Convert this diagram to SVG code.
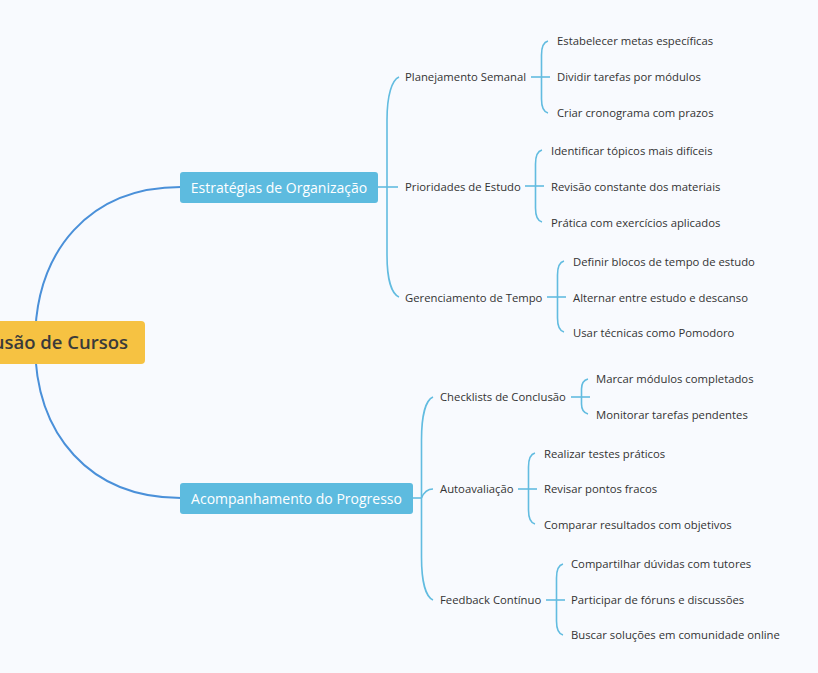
<svg xmlns="http://www.w3.org/2000/svg" width="818" height="673" viewBox="0 0 818 673">
<style>
text{font-family:"Open Sans","Noto Sans","Liberation Sans",sans-serif;}
.leaf{font-size:11.3px;fill:#333;}
.sub{font-size:11.3px;fill:#333;}
.main{font-size:14px;fill:#fff;}
.root{font-size:18.5px;fill:#3a3a3a;font-weight:600;}
.mc{fill:none;stroke:#4a90d9;stroke-width:2;}
.sc{fill:none;stroke:#62bce0;stroke-width:1.6;}
.mbox{fill:#5dbbdf;}
</style>
<rect width="818" height="673" fill="#f8fafe"/>
<g id="connectors">
<path class="mc" d="M35 343 C35 250 90 187 181 187"/>
<path class="mc" d="M35 343 C35 435 90 498 181 498"/>
<path class="sc" d="M378 187 H398"/>
<path class="sc" d="M399 77 C392 80 387 95 387 120 L387 255 C387 280 392 294 399 297"/>
<path class="sc" d="M413 498 H422"/>
<path class="sc" d="M433 397 C426 400 421.5 415 421.5 440 L421.5 557 C421.5 582 426 597 433 600"/>
<path class="sc" d="M421.5 498 C424 492 428 489 433 489"/>
<path class="sc" d="M531 77 H550"/>
<path class="sc" d="M548 41 C544 42 541.5 46 541.5 55 L541.5 99 C541.5 108 544 112 548 113"/>
<path class="sc" d="M525 186 H544"/>
<path class="sc" d="M542 150 C538 151 535.5 155 535.5 164 L535.5 208 C535.5 217 538 221 542 222"/>
<path class="sc" d="M547 297 H566"/>
<path class="sc" d="M564 261 C560 262 557.5 266 557.5 275 L557.5 318 C557.5 327 560 331 564 332"/>
<path class="sc" d="M571 397 H590"/>
<path class="sc" d="M588 379 C584 380 581.5 384 581.5 389 L581.5 404 C581.5 409 584 413 588 414"/>
<path class="sc" d="M518 489 H537"/>
<path class="sc" d="M535 453 C531 454 528.5 458 528.5 467 L528.5 510 C528.5 519 531 523 535 524"/>
<path class="sc" d="M546 600 H565"/>
<path class="sc" d="M563 564 C559 565 556.5 569 556.5 578 L556.5 621 C556.5 630 559 634 563 635"/>
</g>
<g id="root">
<rect x="-20" y="321" width="165" height="43" rx="4" fill="#f6c242"/>
<text class="root" x="128" y="349" text-anchor="end">usão de Cursos</text>
</g>
<g id="n-estrategias">
<rect class="mbox" x="180" y="172" width="198" height="31" rx="3"/>
<text class="main" x="279" y="192.5" text-anchor="middle">Estratégias de Organização</text>
</g>
<g id="n-acompanhamento">
<rect class="mbox" x="180" y="483" width="233" height="31" rx="3"/>
<text class="main" x="296.5" y="503.5" text-anchor="middle">Acompanhamento do Progresso</text>
</g>
<g id="n-planejamento"><text class="sub" x="405" y="81">Planejamento Semanal</text></g>
<g id="n-prioridades"><text class="sub" x="405" y="190.5">Prioridades de Estudo</text></g>
<g id="n-gerenciamento"><text class="sub" x="405" y="301.5">Gerenciamento de Tempo</text></g>
<g id="n-l1"><text class="leaf" x="557" y="45">Estabelecer metas específicas</text></g>
<g id="n-l2"><text class="leaf" x="557" y="81">Dividir tarefas por módulos</text></g>
<g id="n-l3"><text class="leaf" x="557" y="117">Criar cronograma com prazos</text></g>
<g id="n-l4"><text class="leaf" x="551" y="154.5">Identificar tópicos mais difíceis</text></g>
<g id="n-l5"><text class="leaf" x="551" y="190.5">Revisão constante dos materiais</text></g>
<g id="n-l6"><text class="leaf" x="551" y="226.5">Prática com exercícios aplicados</text></g>
<g id="n-l7"><text class="leaf" x="573" y="265.5">Definir blocos de tempo de estudo</text></g>
<g id="n-l8"><text class="leaf" x="573" y="301.5">Alternar entre estudo e descanso</text></g>
<g id="n-l9"><text class="leaf" x="573" y="336.5">Usar técnicas como Pomodoro</text></g>
<g id="n-checklists"><text class="sub" x="440" y="401">Checklists de Conclusão</text></g>
<g id="n-autoavaliacao"><text class="sub" x="440" y="493">Autoavaliação</text></g>
<g id="n-feedback"><text class="sub" x="440" y="604">Feedback Contínuo</text></g>
<g id="n-l10"><text class="leaf" x="596" y="383">Marcar módulos completados</text></g>
<g id="n-l11"><text class="leaf" x="596" y="418.5">Monitorar tarefas pendentes</text></g>
<g id="n-l12"><text class="leaf" x="544" y="457.5">Realizar testes práticos</text></g>
<g id="n-l13"><text class="leaf" x="544" y="493">Revisar pontos fracos</text></g>
<g id="n-l14"><text class="leaf" x="544" y="528.5">Comparar resultados com objetivos</text></g>
<g id="n-l15"><text class="leaf" x="571" y="568">Compartilhar dúvidas com tutores</text></g>
<g id="n-l16"><text class="leaf" x="571" y="604">Participar de fóruns e discussões</text></g>
<g id="n-l17"><text class="leaf" x="571" y="639">Buscar soluções em comunidade online</text></g>
</svg>
